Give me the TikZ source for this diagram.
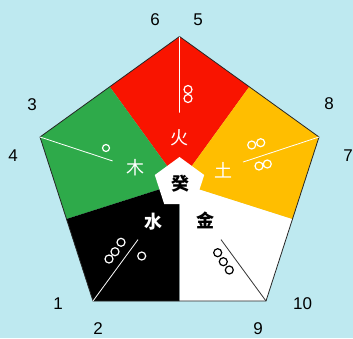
\documentclass[tikz,border=0pt]{standalone}
\usepackage{fontspec}
\setmainfont{Liberation Sans}
\newfontfamily\cjk{Noto Sans CJK SC}
\usepackage{tikz}
\usetikzlibrary{calc}

\definecolor{skyblue}{RGB}{190,233,240}
\definecolor{firered}{RGB}{249,20,0}
\definecolor{woodgreen}{RGB}{46,170,74}
\definecolor{earthgold}{RGB}{255,190,0}

\tikzset{
    num/.style={font=\fontsize{17}{17}\selectfont},
    elem/.style={font=\cjk\fontsize{18}{18}\selectfont},
    dot/.style={draw=white, line width=1.2pt},
    ray/.style={white, line width=0.8pt},
}

\begin{document}
\begin{tikzpicture}[x=1pt,y=-1pt]
    % Background
    \useasboundingbox[fill=skyblue] (0,0) rectangle (353,338);

    % Corners of the pentagon
    \coordinate (C) at (179.5,183);
    \coordinate (T) at (179.5,36.5);
    \coordinate (L) at (40,137);
    \coordinate (BL) at (93,301);
    \coordinate (BR) at (266,301);
    \coordinate (R) at (319,137);

    % Midpoints of the edges
    \coordinate (mTL) at ($(T)!0.5!(L)$);
    \coordinate (mLB) at ($(L)!0.5!(BL)$);
    \coordinate (mB) at ($(BL)!0.5!(BR)$);
    \coordinate (mBR) at ($(BR)!0.5!(R)$);
    \coordinate (mRT) at ($(R)!0.5!(T)$);

    % Sectors
    \fill[firered] (C) -- (mTL) -- (T) -- (mRT) -- cycle;
    \fill[woodgreen] (C) -- (mLB) -- (L) -- (mTL) -- cycle;
    \fill[black] (C) -- (mB) -- (BL) -- (mLB) -- cycle;
    \fill[white] (C) -- (mBR) -- (BR) -- (mB) -- cycle;
    \fill[earthgold] (C) -- (mRT) -- (R) -- (mBR) -- cycle;
    \draw[line width=0.8pt, black!85] (T) -- (L) -- (BL) -- (BR) -- (R) -- cycle;

    % Inner pentagon
    \fill[white] (179.5,157) -- (154.8,175) -- (164.2,204) -- (194.8,204) -- (204.2,175) -- cycle;

    % Rays from the corners
    \draw[ray] (T) -- ($(T)!0.52!(C)$);
    \draw[ray] (L) -- ($(L)!0.52!(C)$);
    \draw[ray] (R) -- ($(R)!0.545!(C)$);
    \draw[ray] (BL) -- ($(BL)!0.52!(C)$);
    \draw[black!80, line width=0.8pt] (BR) -- ($(BR)!0.52!(C)$);

    % Dots
    \draw[dot] (188,89.5) circle (4pt) (188,98.5) circle (4pt);
    \draw[dot] (106,148) circle (3.5pt);
    \draw[dot] (251.7,145) circle (4pt) (260.7,142.7) circle (4pt)
               (259,166) circle (4pt) (267.3,164) circle (4pt);
    \draw[dot] (109,259) circle (4pt) (115,251.7) circle (4pt) (121,242.3) circle (4pt)
               (141.7,256) circle (4pt);
    \draw[black, line width=1.2pt] (217.7,252.7) circle (4pt) (223.3,261.7) circle (4pt)
               (229.3,270) circle (4pt);

    % Elements
    \node[elem, white] (fire) at (179.5,138) {火};
    \node[elem, white] (wood) at (135,168) {木};
    \node[elem, white] (earth) at (223,170) {土};
    \node[elem, white, font=\cjk\bfseries\fontsize{18}{18}\selectfont] (water) at (153,222) {水};
    \node[elem, font=\cjk\bfseries\fontsize{18}{18}\selectfont] (metal) at (205,220) {金};
    \node[elem, font=\cjk\bfseries\fontsize{18}{18}\selectfont] (gui) at (180,184) {癸};

    % Numbers
    \node[num] (n6) at (155,20) {6};
    \node[num] (n5) at (198,20) {5};
    \node[num] (n3) at (32,105) {3};
    \node[num] (n4) at (13,156) {4};
    \node[num] (n8) at (329,104) {8};
    \node[num] (n7) at (348,156) {7};
    \node[num] (n1) at (58,304) {1};
    \node[num] (n2) at (98,329) {2};
    \node[num] (n10) at (302.5,304) {10};
    \node[num] (n9) at (258,329) {9};
\end{tikzpicture}
\end{document}
